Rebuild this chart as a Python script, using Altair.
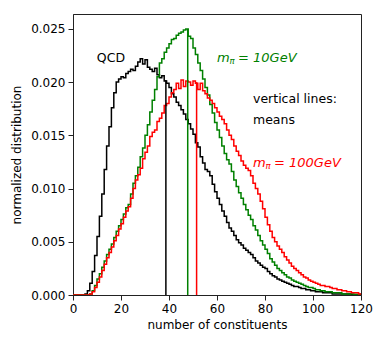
import altair as alt
import pandas as pd

# bin left edges (bin width 1) and normalized counts
bin_edges = list(range(0, 120))

qcd = [0, 0, 0, 0, 0,
       0.0001, 0.0004, 0.0011, 0.0022, 0.0037,
       0.0055, 0.0074, 0.0095, 0.0118, 0.0140,
       0.0158, 0.0176, 0.0190, 0.0200, 0.0203,
       0.0205, 0.0204, 0.0208, 0.0210, 0.0212,
       0.0211, 0.0215, 0.0219, 0.0222, 0.0217,
       0.0221, 0.0214, 0.0212, 0.0210, 0.0213,
       0.0207, 0.0204, 0.0206, 0.0201, 0.0199,
       0.0195, 0.0189, 0.0186, 0.0181, 0.0178,
       0.0174, 0.0170, 0.0165, 0.0161, 0.0156,
       0.0151, 0.0143, 0.0139, 0.0130, 0.0124,
       0.0118, 0.0116, 0.0112, 0.0104, 0.0097,
       0.0091, 0.0085, 0.0079, 0.0074, 0.0068,
       0.0063, 0.0060, 0.0056, 0.0052, 0.0049,
       0.0047, 0.0044, 0.0042, 0.0040, 0.0038,
       0.0035, 0.0032, 0.0030, 0.0028, 0.0026,
       0.0025, 0.0022, 0.0020, 0.0018, 0.0017,
       0.0015, 0.0014, 0.0013, 0.0012, 0.0011,
       0.0010, 0.0009, 0.0008, 0.0008, 0.0007,
       0.0006, 0.0006, 0.0005, 0.0005, 0.0004,
       0.0004, 0.0003, 0.0003, 0.0003, 0.0002,
       0.0002, 0.0002, 0.0002, 0.0001, 0.0001,
       0.0001, 0.0001, 0.0001, 0.0001, 0.0001,
       0.0001, 0.00005, 0.00005, 0.00005, 0.00005]

m10 = [0, 0, 0, 0, 0,
       0, 0, 0.0001, 0.0004, 0.0009,
       0.0015, 0.0020, 0.0026, 0.0032, 0.0038,
       0.0043, 0.0048, 0.0054, 0.0060, 0.0065,
       0.0071, 0.0076, 0.0082, 0.0085, 0.0095,
       0.0105, 0.0112, 0.0120, 0.0130, 0.0138,
       0.0150, 0.0160, 0.0172, 0.0183, 0.0193,
       0.0205, 0.0218, 0.0222, 0.0228, 0.0232,
       0.0236, 0.0240, 0.0241, 0.0244, 0.0246,
       0.0247, 0.0249, 0.0250, 0.0243, 0.0241,
       0.0232, 0.0226, 0.0218, 0.0211, 0.0203,
       0.0195, 0.0188, 0.0179, 0.0171, 0.0162,
       0.0155, 0.0148, 0.0140, 0.0133, 0.0127,
       0.0123, 0.0116, 0.0108, 0.0102, 0.0096,
       0.0091, 0.0085, 0.0080, 0.0075, 0.0071,
       0.0065, 0.0061, 0.0056, 0.0051, 0.0047,
       0.0043, 0.0039, 0.0034, 0.0031, 0.0028,
       0.0025, 0.0023, 0.0021, 0.0019, 0.0017,
       0.0016, 0.0014, 0.0013, 0.0012, 0.0011,
       0.0010, 0.0009, 0.0008, 0.0007, 0.0007,
       0.0006, 0.0005, 0.0005, 0.0004, 0.0004,
       0.0003, 0.0003, 0.0003, 0.0002, 0.0002,
       0.0002, 0.0002, 0.0001, 0.0001, 0.0001,
       0.0001, 0.0001, 0.00005, 0.00005, 0.00005]

m100 = [0, 0, 0, 0, 0,
        0, 0, 0.0001, 0.0003, 0.0007,
        0.0012, 0.0017, 0.0023, 0.0029, 0.0035,
        0.0040, 0.0045, 0.0051, 0.0056, 0.0062,
        0.0067, 0.0073, 0.0079, 0.0083, 0.0091,
        0.0100, 0.0108, 0.0113, 0.0119, 0.0128,
        0.0134, 0.0140, 0.0149, 0.0153, 0.0155,
        0.0163, 0.0166, 0.0171, 0.0178, 0.0180,
        0.0186, 0.0190, 0.0193, 0.0199, 0.0194,
        0.0202, 0.0196, 0.0201, 0.0200, 0.0197,
        0.0201, 0.0199, 0.0193, 0.0199, 0.0192,
        0.0189, 0.0185, 0.0183, 0.0180, 0.0176,
        0.0172, 0.0168, 0.0165, 0.0161, 0.0155,
        0.0150, 0.0146, 0.0140, 0.0135, 0.0131,
        0.0126, 0.0122, 0.0119, 0.0117, 0.0112,
        0.0105, 0.0100, 0.0095, 0.0088, 0.0081,
        0.0073, 0.0066, 0.0060, 0.0054, 0.0050,
        0.0046, 0.0043, 0.0040, 0.0036, 0.0033,
        0.0030, 0.0027, 0.0025, 0.0023, 0.0021,
        0.0019, 0.0017, 0.0016, 0.0014, 0.0013,
        0.0012, 0.0011, 0.0010, 0.0009, 0.0009,
        0.0008, 0.0008, 0.0007, 0.0006, 0.0006,
        0.0005, 0.0005, 0.0004, 0.0004, 0.0003,
        0.0003, 0.0002, 0.0002, 0.0002, 0.0001]

series_names = ["QCD", "m10", "m100"]
series_colors = ["#000000", "#008000", "#ff0000"]
mean_x = [38.7, 47.8, 51.5]
mean_top = [0.0202, 0.0250, 0.0200]

rows = []
for name, vals in zip(series_names, [qcd, m10, m100]):
    for e, v in zip(bin_edges, vals):
        rows.append({"series": name, "x": e, "y": v})
    rows.append({"series": name, "x": 120, "y": vals[-1]})
hist_df = pd.DataFrame(rows)

mean_df = pd.DataFrame({"series": series_names, "x": mean_x, "y0": [0, 0, 0], "y1": mean_top})

FONT = "DejaVu Sans"
xscale = alt.Scale(domain=[0, 120], nice=False, zero=False)
yscale = alt.Scale(domain=[0, 0.0264], nice=False)
cscale = alt.Scale(domain=series_names, range=series_colors)

hist = alt.Chart(hist_df).mark_line(interpolate="step-after", strokeWidth=1.5, clip=True).encode(
    x=alt.X("x:Q", scale=xscale,
            axis=alt.Axis(title="number of constituents", values=[0, 20, 40, 60, 80, 100, 120],
                          format="d", grid=False, labelFlush=False)),
    y=alt.Y("y:Q", scale=yscale,
            axis=alt.Axis(title="normalized distribution",
                          values=[0, 0.005, 0.01, 0.015, 0.02, 0.025], format=".3f", grid=False,
                          labelFlush=False)),
    color=alt.Color("series:N", scale=cscale, legend=None),
    order=alt.Order("x:Q"),
)

means = alt.Chart(mean_df).mark_rule(strokeWidth=1.5).encode(
    x=alt.X("x:Q", scale=xscale),
    y=alt.Y("y0:Q", scale=yscale),
    y2="y1:Q",
    color=alt.Color("series:N", scale=cscale, legend=None),
)

def label(text, x, y, color, size=12, italic=False, dx=0, dy=0, align="left"):
    df = pd.DataFrame({"x": [x], "y": [y], "t": [text]})
    return alt.Chart(df).mark_text(
        align=align, baseline="middle", font=FONT, fontSize=size,
        fontStyle="italic" if italic else "normal", color=color, dx=dx, dy=dy,
    ).encode(x=alt.X("x:Q", scale=xscale), y=alt.Y("y:Q", scale=yscale), text="t:N")

texts = [
    label("QCD", 15.8, 0.0223, "#000000", size=12.5, align="center"),
    label("m", 60.0, 0.0223, "#008000", size=13, italic=True),
    label("π", 60.0, 0.0223, "#008000", size=8.5, italic=True, dx=12.5, dy=3),
    label("= 10GeV", 60.0, 0.0223, "#008000", size=13, italic=True, dx=21),
    label("vertical lines:", 75.0, 0.01838, "#000000", size=12.5),
    label("means", 75.0, 0.01642, "#000000", size=12.5),
    label("m", 75.0, 0.0124, "#ff0000", size=13, italic=True),
    label("π", 75.0, 0.0124, "#ff0000", size=8.5, italic=True, dx=12.5, dy=3),
    label("= 100GeV", 75.0, 0.0124, "#ff0000", size=13, italic=True, dx=21),
]

chart = alt.layer(hist, means, *texts).properties(
    width=288, height=281,
    autosize=alt.AutoSizeParams(type="none"),
    padding={"left": 65, "top": 6, "right": 14, "bottom": 40},
).configure_view(
    stroke="#222222", strokeWidth=1
).configure_axis(
    domainColor="#222222", tickColor="#222222", tickSize=5, labelPadding=3,
    labelFont=FONT, titleFont=FONT, labelFontSize=12, titleFontSize=12,
    labelColor="#000000", titleColor="#000000", titleFontWeight="normal",
).configure_axisY(
    titlePadding=7
).configure_axisX(
    titlePadding=5
)

chart.save("out.html", embed_options={"renderer": "svg", "actions": False})
